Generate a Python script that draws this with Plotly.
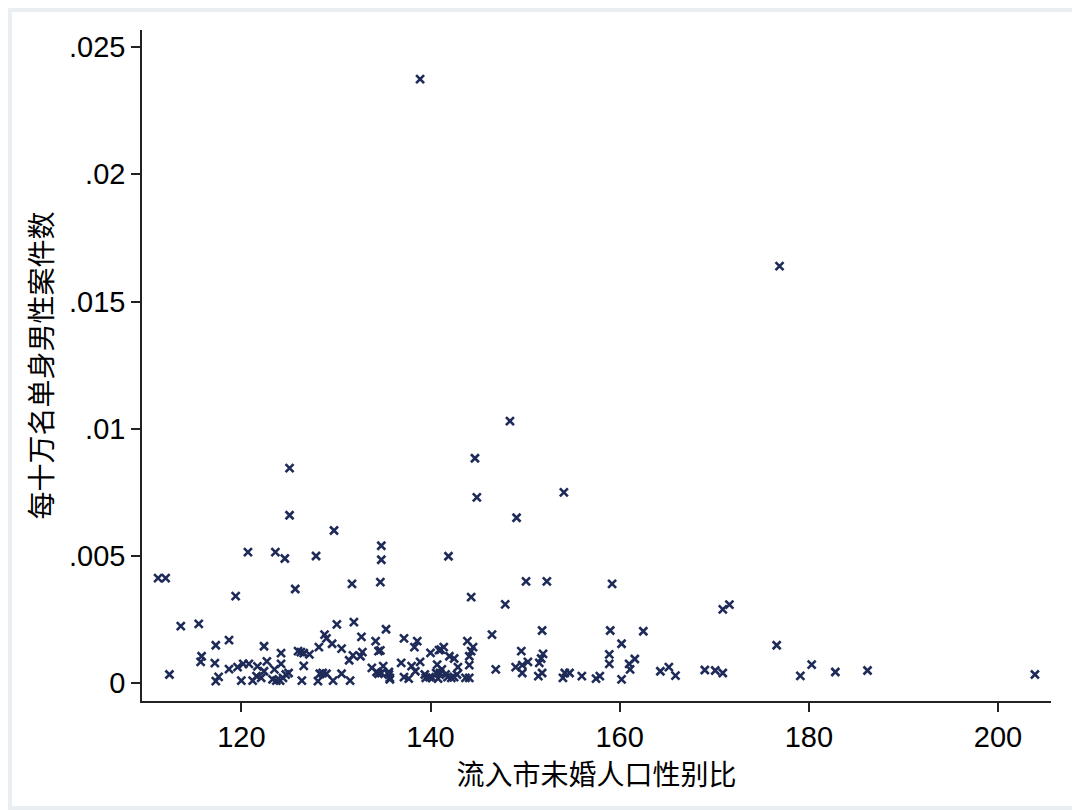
import plotly.graph_objects as go

# 流入市未婚人口性别比 (x) / 每十万名单身男性案件数 (y)
sex_ratio = [
    138.9, 176.9, 148.4, 144.7, 125.1, 154.1, 144.9, 125.1, 149.1, 129.8,
    134.8, 134.8, 120.7, 123.6, 124.6, 127.9, 141.9, 111.2, 112.0, 131.7,
    134.7, 125.7, 119.4, 150.1, 152.3, 159.2, 144.3, 147.9, 170.9, 171.6,
    112.4, 113.6, 115.5, 117.3, 118.7, 115.8, 115.7, 117.2, 117.3, 117.6,
    118.7, 119.6, 120.2, 120.8, 120.0, 121.2, 121.7, 121.6, 122.1, 122.4,
    122.7, 122.4, 123.3, 123.7, 124.1, 124.4, 124.7, 125.0, 123.5, 124.2,
    124.2, 126.4, 126.6, 126.0, 126.3, 126.6, 127.2, 128.1, 128.3, 129.0,
    128.2, 128.8, 129.0, 129.6, 130.1, 129.7, 130.6, 131.5, 130.6, 131.4,
    131.8, 131.9, 132.7, 132.6, 132.8, 133.8, 134.3, 134.2, 134.5, 135.3,
    134.7, 134.5, 134.8, 135.0, 135.6, 135.6, 135.7, 135.7, 136.9, 137.2,
    138.3, 138.6, 138.0, 138.4, 137.2, 137.7, 138.9, 139.4, 139.5, 139.9,
    140.0, 140.7, 140.9, 141.1, 141.4, 141.2, 140.8, 141.6, 141.8, 142.2,
    142.5, 142.8, 142.0, 142.5, 142.9, 143.7, 144.1, 144.1, 144.1, 144.3,
    144.5, 143.9, 146.5, 146.9, 149.0, 149.7, 149.6, 149.7, 150.3, 151.4,
    151.8, 151.5, 151.7, 151.9, 151.8, 154.0, 154.2, 154.7, 156.0, 157.5,
    157.9, 158.9, 158.9, 159.0, 160.2, 160.2, 161.0, 161.1, 161.6, 162.5,
    164.3, 165.2, 165.9, 169.0, 170.1, 170.9, 176.6, 179.1, 180.3, 182.8,
    186.2, 203.9, 128.6, 140.2, 140.6, 141.0,
]
case_rate = [
    0.02374, 0.01639, 0.0103, 0.00884, 0.00845, 0.0075, 0.0073, 0.0066, 0.0065, 0.0060,
    0.0054, 0.00485, 0.00515, 0.00515, 0.0049, 0.0050, 0.00499, 0.00413, 0.00413, 0.0039,
    0.00397, 0.0037, 0.00342, 0.0040, 0.0040, 0.0039, 0.00338, 0.0031, 0.0029, 0.00309,
    0.00034, 0.00224, 0.00233, 0.00149, 0.00169, 0.00106, 0.00084, 0.00079, 0.00008, 0.00025,
    0.00055, 0.00063, 0.00076, 0.00076, 0.0001, 0.0001, 0.00066, 0.00028, 0.00021, 0.00047,
    0.00086, 0.00145, 0.00015, 0.0001, 0.0001, 0.00021, 0.00034, 0.0004, 0.00054, 0.00076,
    0.00118, 0.0001, 0.00068, 0.00126, 0.00122, 0.00118, 0.00113, 0.00008, 0.00037, 0.00037,
    0.00142, 0.00191, 0.00176, 0.00155, 0.00231, 0.0001, 0.00037, 0.0001, 0.00136, 0.0009,
    0.00109, 0.0024, 0.00182, 0.00106, 0.00122, 0.0006, 0.00044, 0.00165, 0.00126, 0.00212,
    0.00129, 0.00037, 0.0004, 0.00067, 0.00044, 0.00034, 0.00021, 0.00015, 0.0008, 0.00176,
    0.00142, 0.00165, 0.00067, 0.00047, 0.00024, 0.00018, 0.00084, 0.00034, 0.00021, 0.00024,
    0.00119, 0.00073, 0.0013, 0.00132, 0.00142, 0.00054, 0.00018, 0.00034, 0.00024, 0.00021,
    0.00024, 0.00034, 0.00106, 0.00097, 0.00063, 0.00021, 0.00021, 0.00071, 0.00106, 0.00126,
    0.00142, 0.00165, 0.00191, 0.00054, 0.00063, 0.00071, 0.00126, 0.0004, 0.00084, 0.00028,
    0.0004, 0.0008, 0.00097, 0.00115, 0.00207, 0.00021, 0.0004, 0.0004, 0.00028, 0.00018,
    0.00028, 0.00113, 0.00076, 0.00207, 0.00015, 0.00155, 0.00076, 0.00054, 0.00095, 0.00204,
    0.00047, 0.00063, 0.0003, 0.00052, 0.0005, 0.0004, 0.00149, 0.00029, 0.00073, 0.00044,
    0.0005, 0.00034, 0.0004, 0.00021, 0.0004, 0.0004,
]

y_ticks = [0, 0.005, 0.01, 0.015, 0.02, 0.025]
y_tick_text = ['0', '.005', '.01', '.015', '.02', '.025']
x_ticks = [120, 140, 160, 180, 200]

NAVY = '#1e2b58'
FONT = 'Liberation Sans, Arial, sans-serif'
CJK = 'Noto Sans CJK SC, sans-serif'

fig = go.Figure(
    go.Scatter(
        x=sex_ratio,
        y=case_rate,
        mode='markers',
        marker=dict(symbol='x-thin', size=8, color=NAVY,
                    line=dict(width=2.6, color=NAVY)),
        hoverinfo='x+y',
        showlegend=False,
    )
)

# 外框 (浅灰边)
L, R, T, B = 134, 37, 22, 117
pw, ph = 1080 - L - R, 810 - T - B
fig.add_shape(
    type='rect', xref='paper', yref='paper',
    x0=-L / pw, x1=(1080 - L - 8) / pw, y0=-(B - 8) / ph, y1=(810 - B) / ph,
    line=dict(color='#e9eef2', width=8), layer='below',
)

fig.update_layout(
    width=1080,
    height=810,
    margin=dict(l=L, r=R, t=T, b=B),
    plot_bgcolor='white',
    paper_bgcolor='white',
    font=dict(family=FONT, color='black', size=29),
    xaxis=dict(
        range=[109.5, 205.6],
        tickvals=x_ticks,
        showline=True, linecolor='#222', linewidth=1.5,
        ticks='outside', ticklen=9, tickwidth=1.5, tickcolor='#222',
        showgrid=False, zeroline=False,
        tickfont=dict(size=29, family=FONT),
        title=dict(text='流入市未婚人口性别比', font=dict(size=28, family=CJK), standoff=4),
    ),
    yaxis=dict(
        range=[-0.0007, 0.02567],
        tickvals=y_ticks,
        ticktext=y_tick_text,
        showline=True, linecolor='#222', linewidth=1.5,
        ticks='outside', ticklen=9, tickwidth=1.5, tickcolor='#222',
        showgrid=False, zeroline=False,
        tickfont=dict(size=29, family=FONT),
        title=dict(text='每十万名单身男性案件数', font=dict(size=28, family=CJK), standoff=8),
    ),
)

fig.write_html("out.html")
